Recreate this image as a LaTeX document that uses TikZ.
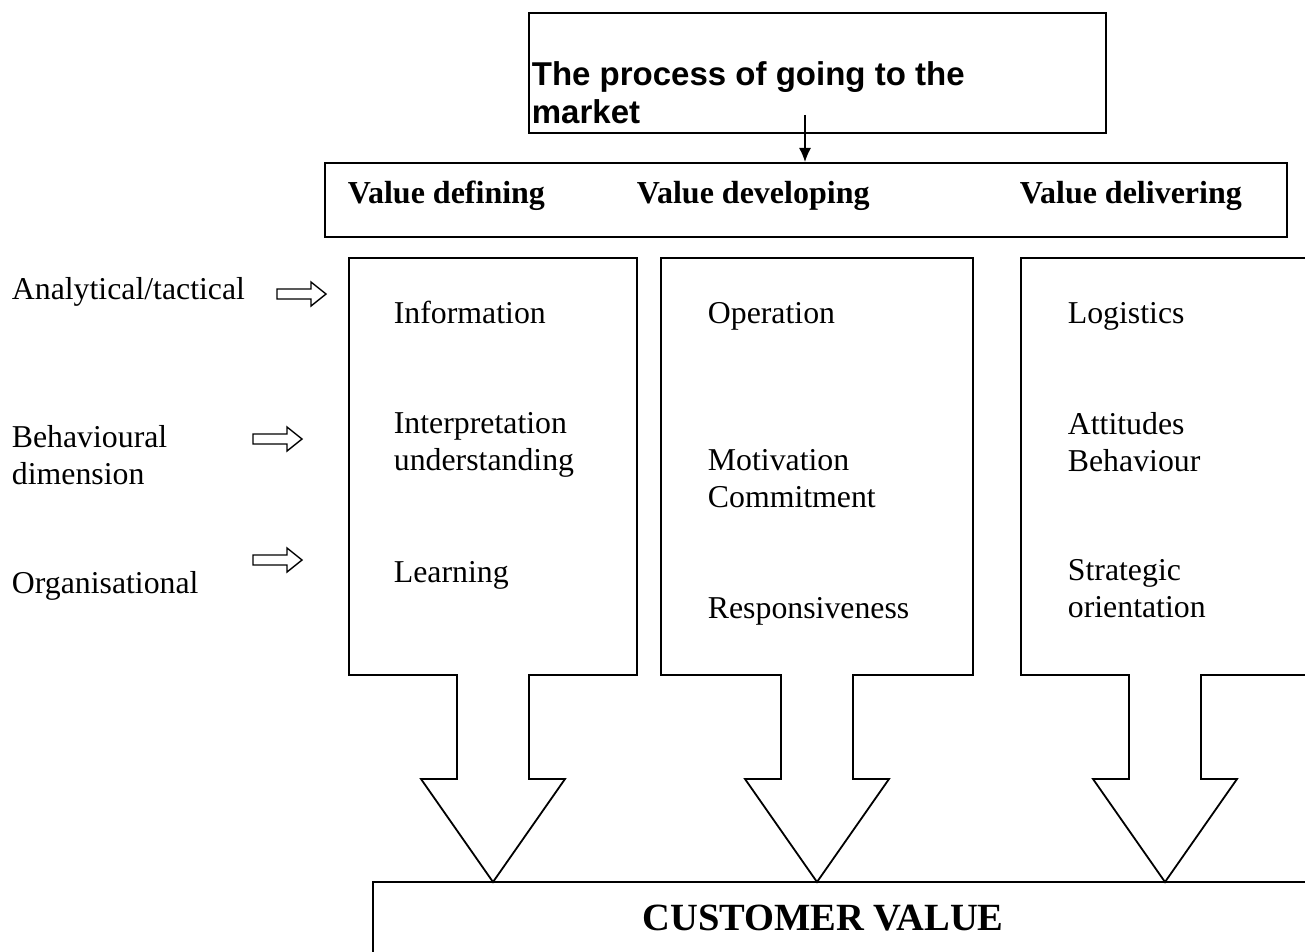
\documentclass[tikz,border=0pt]{standalone}
\usepackage{fontspec}
\setmainfont{Liberation Serif}
\newfontfamily\arialfont{Liberation Sans}
\usetikzlibrary{arrows.meta}
\newcommand{\mytwo}[2]{\vtop{\hbox{#1}\hbox{#2}}}
\begin{document}
\begin{tikzpicture}[x=1pt,y=-1pt,line width=1.8pt,
  txt/.style={anchor=base west, inner sep=0pt, font=\fontsize{31.8}{37}\selectfont},
  hdr/.style={anchor=base west, inner sep=0pt, font=\fontsize{32}{37}\selectfont\bfseries},
  boxline/.style={draw=black, line width=1.8pt, line join=miter},
  hollow/.style={draw=black, line width=1.4pt, fill=white, line join=miter}]
\useasboundingbox (0,0) rectangle (1305,952);
\clip (0,0) rectangle (1305,952);

% top box
\node[boxline, anchor=north west, minimum width=577pt, minimum height=120pt, inner sep=0pt] (top) at (528,12) {};
\node[anchor=base west, inner sep=0pt, font=\arialfont\bfseries\fontsize{33}{38}\selectfont] (toptxt) at (531,86) {\mytwo{The process of going to the}{market}};

% value row box
\node[boxline, anchor=north west, minimum width=962pt, minimum height=74pt, inner sep=0pt] (val) at (324,162) {};
\node[hdr] (h1) at (347,203) {Value defining};
\node[hdr] (h2) at (636,203) {Value developing};
\node[hdr] (h3) at (1019,203) {Value delivering};

\coordinate (as) at (805,115);
\draw[-{Latex[length=14pt,width=12pt]}, line width=1.3pt] (as) -- (as |- val.north);

% column block arrows
\draw[boxline] (349,258) -- (637,258) -- (637,675) -- (529,675) -- (529,779) -- (565,779) -- (493,882) -- (421,779) -- (457,779) -- (457,675) -- (349,675) -- cycle;
\draw[boxline] (661,258) -- (973,258) -- (973,675) -- (853,675) -- (853,779) -- (889,779) -- (817,882) -- (745,779) -- (781,779) -- (781,675) -- (661,675) -- cycle;
\draw[boxline] (1330,258) -- (1021,258) -- (1021,675) -- (1129,675) -- (1129,779) -- (1093,779) -- (1165,882) -- (1237,779) -- (1201,779) -- (1201,675) -- (1330,675);

% customer value box
\draw[boxline] (373,1000) -- (373,882) -- (1330,882);
\node[anchor=base, inner sep=0pt, font=\fontsize{38.5}{44}\selectfont\bfseries] (cv) at (823,930) {CUSTOMER VALUE};

% column texts
\node[txt] (c1a) at (393,323) {Information};
\node[txt] (c1b) at (393,433) {\mytwo{Interpretation}{understanding}};
\node[txt] (c1c) at (393,582) {Learning};
\node[txt] (c2a) at (707,323) {Operation};
\node[txt] (c2b) at (707,470) {\mytwo{Motivation}{Commitment}};
\node[txt] (c2c) at (707,618) {Responsiveness};
\node[txt] (c3a) at (1067,323) {Logistics};
\node[txt] (c3b) at (1067,434) {\mytwo{Attitudes}{Behaviour}};
\node[txt] (c3c) at (1067,580) {\mytwo{Strategic}{orientation}};

% left labels
\node[txt] (l1) at (11,299) {Analytical/tactical};
\node[txt] (l2) at (11,447) {\mytwo{Behavioural}{dimension}};
\node[txt] (l3) at (11,593) {Organisational};

% small hollow arrows
\foreach \xa/\ya in {277/294, 253/439, 253/560}{
  \draw[hollow] (\xa,\ya-5) -- (\xa+34,\ya-5) -- (\xa+34,\ya-12) -- (\xa+49,\ya) -- (\xa+34,\ya+12) -- (\xa+34,\ya+5) -- (\xa,\ya+5) -- cycle;
}
\end{tikzpicture}
\end{document}
